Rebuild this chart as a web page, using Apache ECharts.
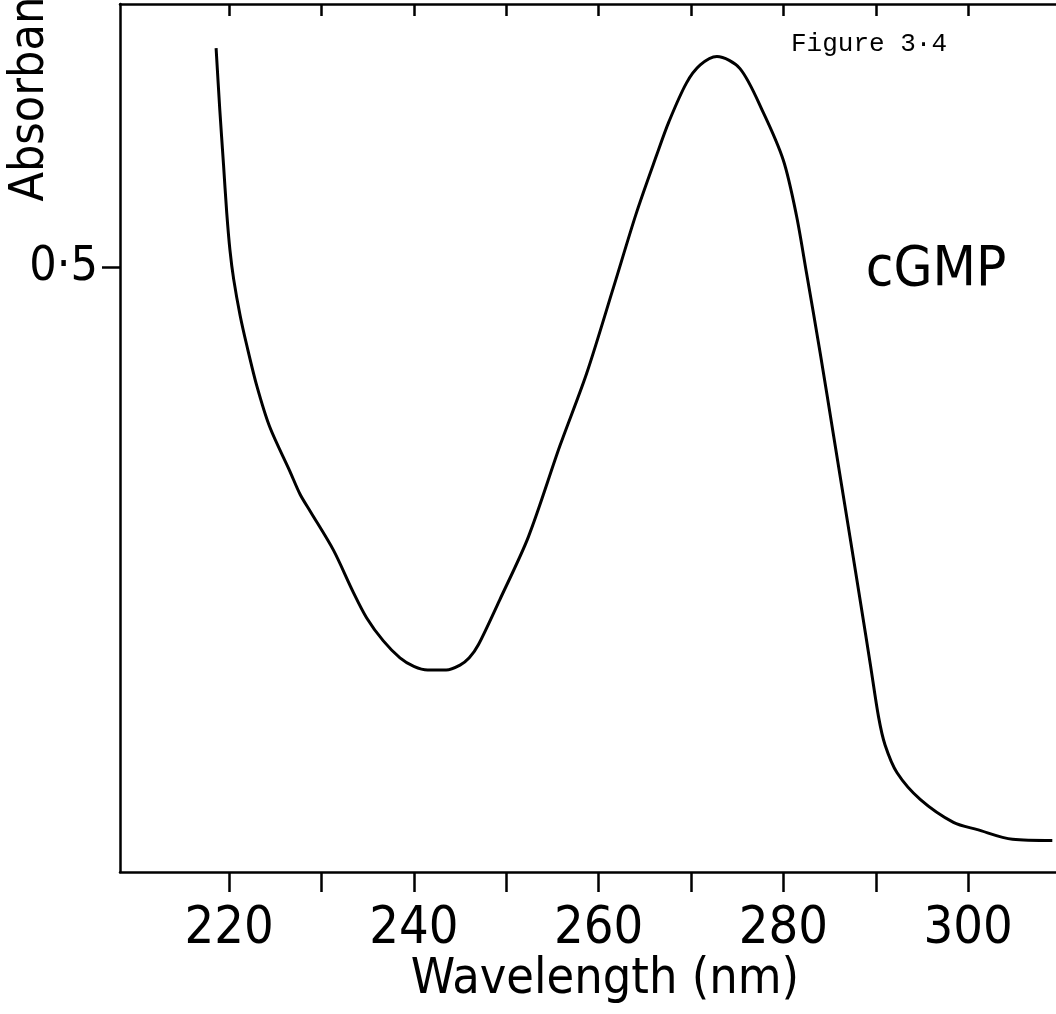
<!DOCTYPE html>
<html>
<head>
<meta charset="utf-8">
<script src="https://cdn.jsdelivr.net/npm/echarts@6/dist/echarts.min.js"></script>
<style>
  html, body { margin: 0; padding: 0; background: #fff; }
  #chart { width: 1056px; height: 1014px; }
</style>
</head>
<body>
<div id="chart"></div>
<script>
// Wavelength (nm) and absorbance
const wavelengths = [218.6, 219.0, 219.4, 219.75, 220.1, 220.5, 221.2, 221.9, 223.0, 224.4,
  226.6, 227.7, 228.8, 231.3, 233.4, 234.9, 236.7, 238.5, 240.0, 241.5,
  243.5, 245.0, 246.0, 247.0, 249.3, 252.4, 255.8, 258.7, 261.6, 264.1, 266.3,
  267.6, 269.5, 271.0, 272.8, 275.3, 277.8, 280.0, 281.4, 282.5, 284.0,
  285.4, 287.2, 288.4, 289.4, 290.3, 291.0, 292.3, 294.8, 298.4, 301.0, 304.8, 309.1];
const absorbance = [0.681, 0.630, 0.585, 0.545, 0.514, 0.490, 0.460, 0.436, 0.402, 0.368,
  0.331, 0.312, 0.298, 0.266, 0.232, 0.210, 0.191, 0.177, 0.170, 0.167,
  0.167, 0.171, 0.177, 0.188, 0.225, 0.277, 0.352, 0.412, 0.483, 0.545, 0.593,
  0.620, 0.652, 0.667, 0.674, 0.664, 0.628, 0.588, 0.543, 0.495, 0.428,
  0.362, 0.277, 0.220, 0.172, 0.128, 0.105, 0.082, 0.060, 0.041, 0.035, 0.027, 0.026];
const xTickValues = [220, 230, 240, 250, 260, 270, 280, 290, 300];
const xLabelValues = [220, 240, 260, 280, 300];
const yTickValues = [0.5];

const seriesData = wavelengths.map((w, i) => [w, absorbance[i]]);
const FONT = '"Liberation Sans Narrow", "DejaVu Sans Condensed", "Roboto", sans-serif';

const chart = echarts.init(document.getElementById('chart'), null, { renderer: 'canvas' });
chart.setOption({
  animation: false,
  backgroundColor: '#ffffff',
  grid: { left: 120, right: 0, top: 4, bottom: 142, containLabel: false },
  xAxis: [
    {
      type: 'value', position: 'bottom', min: 208.2, max: 309.5,
      axisLine: { show: true, lineStyle: { color: '#000', width: 2.5 } },
      axisTick: { show: true, inside: false, length: 20, customValues: xTickValues,
                  lineStyle: { color: '#000', width: 2.5 } },
      axisLabel: { show: true, customValues: xLabelValues, margin: 31,
                   fontFamily: FONT, fontSize: 52, color: '#000' },
      splitLine: { show: false }
    },
    {
      type: 'value', position: 'top', min: 208.2, max: 309.5,
      axisLine: { show: true, onZero: false, lineStyle: { color: '#000', width: 2.5 } },
      axisTick: { show: true, inside: true, length: 12, customValues: xTickValues,
                  lineStyle: { color: '#000', width: 2.5 } },
      axisLabel: { show: false },
      splitLine: { show: false }
    }
  ],
  yAxis: {
    type: 'value', min: 0, max: 0.7174,
    axisLine: { show: true, lineStyle: { color: '#000', width: 2.5 } },
    axisTick: { show: true, inside: false, length: 18, customValues: yTickValues,
                lineStyle: { color: '#000', width: 2.5 } },
    axisLabel: { show: true, customValues: yTickValues, margin: 22,
                 fontFamily: FONT, fontSize: 48, color: '#000',
                 formatter: v => String(v).replace('.', '·') },
    splitLine: { show: false }
  },
  series: [{
    type: 'line', xAxisIndex: 0, data: seriesData, smooth: 0.3,
    showSymbol: false, symbol: 'none',
    lineStyle: { color: '#000', width: 3 }
  }],
  graphic: [
    { type: 'text', x: 605, y: 980,
      style: { text: 'Wavelength (nm)', font: '50px ' + FONT, fill: '#000',
               textAlign: 'center', textVerticalAlign: 'middle' } },
    { type: 'text', x: 31, y: 74, rotation: Math.PI / 2,
      style: { text: 'Absorbance', font: '48px ' + FONT, fill: '#000',
               textAlign: 'center', textVerticalAlign: 'middle' } },
    { type: 'text', x: 936, y: 270,
      style: { text: 'cGMP', font: '56px ' + FONT, fill: '#000',
               textAlign: 'center', textVerticalAlign: 'middle' } },
    { type: 'text', x: 869, y: 44,
      style: { text: 'Figure 3·4', font: '26px "Liberation Mono", "DejaVu Sans Mono", monospace', fill: '#000',
               textAlign: 'center', textVerticalAlign: 'middle' } }
  ]
});
</script>
</body>
</html>
